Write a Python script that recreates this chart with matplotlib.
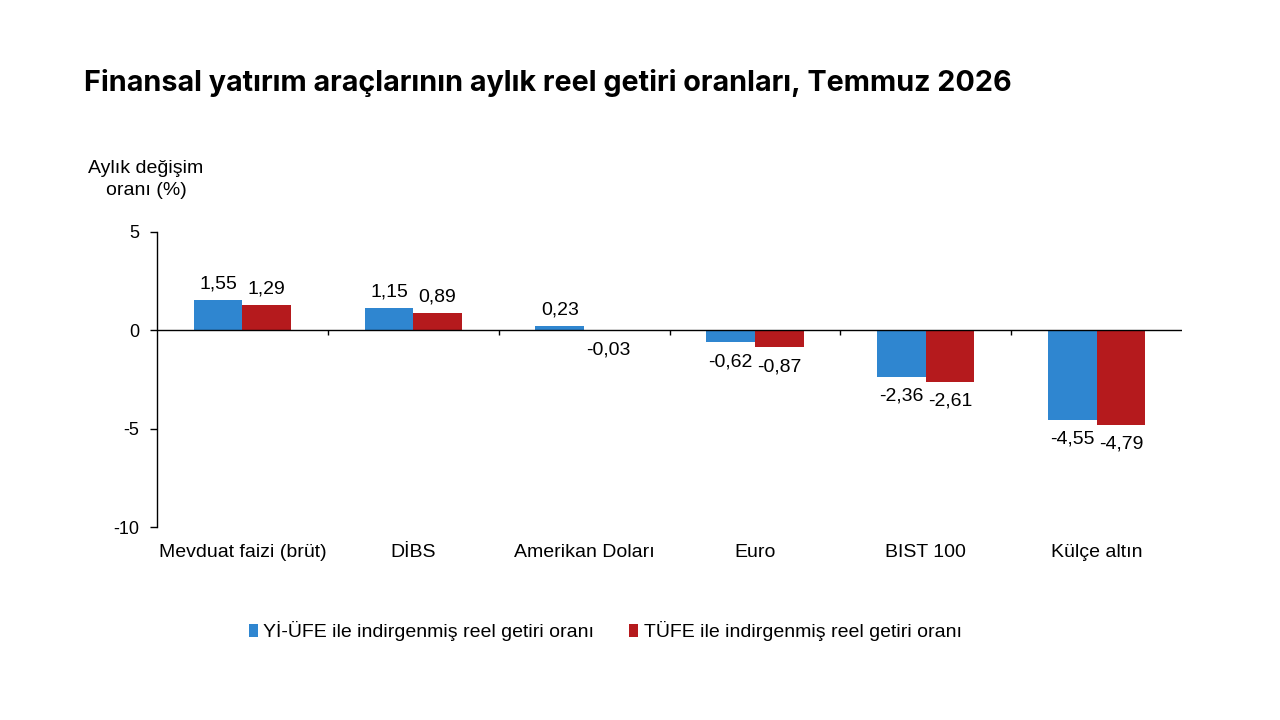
import matplotlib.pyplot as plt
import numpy as np

kategoriler = ['Mevduat faizi (brüt)', 'DİBS', 'Amerikan Doları', 'Euro', 'BIST 100', 'Külçe altın']
yi_ufe = [1.55, 1.15, 0.23, -0.62, -2.36, -4.55]
tufe = [1.29, 0.89, -0.03, -0.87, -2.61, -4.79]
seri_adlari = ['Yİ-ÜFE ile indirgenmiş reel getiri oranı', 'TÜFE ile indirgenmiş reel getiri oranı']

plt.rcParams['font.family'] = ['Liberation Sans', 'DejaVu Sans']

x = np.arange(len(kategoriler))
width = 0.285

fig = plt.figure(figsize=(12.8, 7.2), dpi=100)
ax = fig.add_axes([0.1227, 0.268, 0.8007, 0.41])

b1 = ax.bar(x - width / 2, yi_ufe, width, color='#2f86d0', label=seri_adlari[0])
b2 = ax.bar(x + width / 2, tufe, width, color='#b51a1d', label=seri_adlari[1])

def etiketle(bars, values):
    for b, v in zip(bars, values):
        txt = f'{v:.2f}'.replace('.', ',')
        if v >= 0:
            ax.annotate(txt, (b.get_x() + b.get_width() / 2, v), xytext=(0, 5),
                        textcoords='offset points', ha='center', va='bottom', fontsize=14)
        else:
            ax.annotate(txt, (b.get_x() + b.get_width() / 2, v), xytext=(0, -8),
                        textcoords='offset points', ha='center', va='top', fontsize=14)

etiketle(b1, yi_ufe)
etiketle(b2, tufe)

ax.set_xlim(-0.5, len(kategoriler) - 0.5)
ax.set_ylim(-10, 5)
ax.set_yticks([5, 0, -5, -10])
ax.set_yticklabels(['5', '0', '-5', '-10'], fontsize=13)
ax.set_xticks(x)
ax.set_xticklabels(kategoriler, fontsize=14)
ax.tick_params(axis='x', length=0, pad=12)
ax.tick_params(axis='y', length=5, width=1, direction='out', pad=8)

for s in ['top', 'right', 'bottom']:
    ax.spines[s].set_visible(False)
ax.spines['left'].set_linewidth(1)
ax.axhline(0, color='black', linewidth=1, zorder=3)
ax.vlines(np.arange(0.5, len(kategoriler) - 0.5), -0.25, 0, color='black', linewidth=1, zorder=3)

fig.text(0.066, 0.885, 'Finansal yatırım araçlarının aylık reel getiri oranları, Temmuz 2026',
         fontsize=20.7, fontweight='bold', family=['Inter', 'DejaVu Sans'], va='center')
fig.text(0.114, 0.751, 'Aylık değişim\noranı (%)', fontsize=14, ha='center', va='center', linespacing=1.35)

fig.legend(handles=[b1, b2], loc='center', bbox_to_anchor=(0.473, 0.123), ncol=2, frameon=False,
           fontsize=14, handlelength=0.45, handleheight=0.65, handletextpad=0.3, columnspacing=1.8)

plt.savefig('out.png', dpi=100, facecolor='white')
